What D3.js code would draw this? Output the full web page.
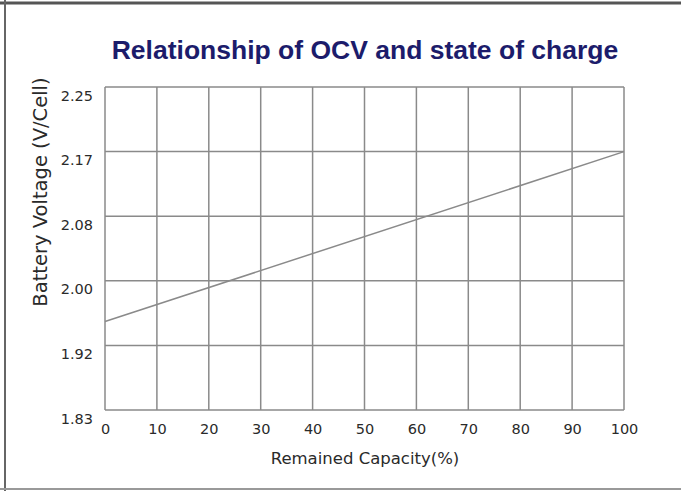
<!DOCTYPE html>
<html>
<head>
<meta charset="utf-8">
<script src="https://cdn.jsdelivr.net/npm/d3@7"></script>
<style>
  body { margin: 0; background: #fff; }
  .tick text { font-family: "DejaVu Sans", sans-serif; font-size: 14.5px; fill: #2a2a2a; }
  .aText { font-family: "DejaVu Sans", sans-serif; fill: #2a2a2a; }
</style>
</head>
<body>
<div id="chart"></div>
<script>
// data
var capacity = [0, 100];
var ocv = [1.945, 2.166];
var xTicks = [0, 10, 20, 30, 40, 50, 60, 70, 80, 90, 100];
var yTickLabels = ["1.83", "1.92", "2.00", "2.08", "2.17", "2.25"];

var svgWidth = 681;
var svgHeight = 491;

var margin = { top: 87, left: 105, right: 57, bottom: 81 };
var width = svgWidth - margin.left - margin.right;
var height = svgHeight - margin.top - margin.bottom;

var svg = d3.select("#chart")
    .append("svg")
    .attr("width", svgWidth)
    .attr("height", svgHeight);

// picture frame
svg.append("line").attr("x1", 0).attr("x2", svgWidth).attr("y1", 3).attr("y2", 3)
    .attr("stroke", "#555").attr("stroke-width", 3);
svg.append("line").attr("x1", 5).attr("x2", 5).attr("y1", 0).attr("y2", svgHeight)
    .attr("stroke", "#666").attr("stroke-width", 2);
svg.append("line").attr("x1", 0).attr("x2", svgWidth).attr("y1", 489).attr("y2", 489)
    .attr("stroke", "#999").attr("stroke-width", 2);

var g = svg.append("g")
    .attr("transform", `translate(${margin.left}, ${margin.top})`);

var xScale = d3.scaleLinear().domain([0, 100]).range([0, width]);
var yMin = +yTickLabels[0], yMax = +yTickLabels[yTickLabels.length - 1];
var yScale = d3.scaleLinear().domain([yMin, yMax]).range([height, 0]);
var yTickVals = d3.range(yTickLabels.length).map(i => yMin + i * (yMax - yMin) / (yTickLabels.length - 1));

// grid
g.append("g").selectAll("line").data(xTicks).enter().append("line")
    .attr("x1", d => xScale(d)).attr("x2", d => xScale(d))
    .attr("y1", 0).attr("y2", height)
    .attr("stroke", "#8a8a8a").attr("stroke-width", 1.5);
g.append("g").selectAll("line").data(yTickVals).enter().append("line")
    .attr("x1", 0).attr("x2", width)
    .attr("y1", d => yScale(d)).attr("y2", d => yScale(d))
    .attr("stroke", "#8a8a8a").attr("stroke-width", 1.5);

// axes (labels only)
var xAxis = d3.axisBottom(xScale).tickValues(xTicks).tickSize(0).tickPadding(14);
var gx = g.append("g").attr("transform", `translate(0, ${height})`).call(xAxis);
gx.select(".domain").remove();

var yAxis = d3.axisLeft(yScale).tickValues(yTickVals)
    .tickFormat((d, i) => yTickLabels[i]).tickSize(0).tickPadding(12);
var gy = g.append("g").call(yAxis);
gy.select(".domain").remove();
gy.selectAll(".tick text").attr("dy", "0.9em");

// the OCV line
var line = d3.line().x(d => xScale(d[0])).y(d => yScale(d[1]));
g.append("path")
    .datum(capacity.map((c, i) => [c, ocv[i]]))
    .attr("d", line)
    .attr("fill", "none")
    .attr("stroke", "#8a8a8a")
    .attr("stroke-width", 1.5);

// title
svg.append("text")
    .attr("x", 365).attr("y", 59)
    .style("text-anchor", "middle")
    .style("font-family", "'Liberation Sans', Arial, sans-serif")
    .style("font-weight", "bold")
    .style("font-size", "26.5px")
    .style("fill", "#1c1c6b")
    .text("Relationship of OCV and state of charge");

// x axis title
svg.append("text")
    .attr("x", 365).attr("y", 464)
    .style("text-anchor", "middle")
    .style("font-size", "16.5px")
    .classed("aText", true)
    .text("Remained Capacity(%)");

// y axis title
svg.append("text")
    .attr("transform", "rotate(-90)")
    .attr("x", -192).attr("y", 47)
    .style("text-anchor", "middle")
    .style("font-size", "19.5px")
    .classed("aText", true)
    .text("Battery Voltage (V/Cell)");
</script>
</body>
</html>
